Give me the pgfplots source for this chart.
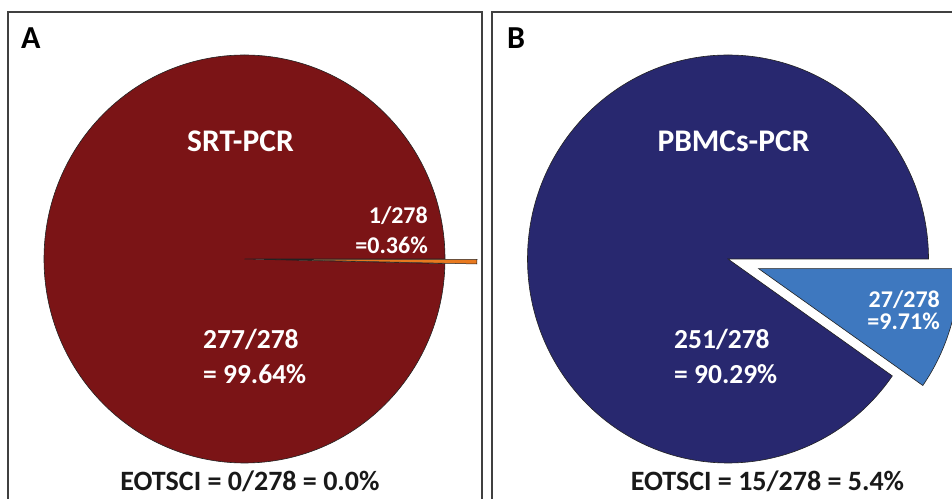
\documentclass[border=0pt]{standalone}
\usepackage{pgfplots}
\pgfplotsset{compat=1.18}
\usepackage{fontspec}
\setmainfont{Carlito}
\definecolor{redA}{HTML}{7B1416}
\definecolor{navyB}{HTML}{28286F}
\definecolor{blueB}{HTML}{3E78BF}
\definecolor{orangeA}{HTML}{E8791F}
\definecolor{edge}{HTML}{222222}
% data: counts out of 278
\def\Ntot{278}
\def\posA{1}   % SRT-PCR positive
\def\negA{277}
\def\posB{27}  % PBMCs-PCR positive
\def\negB{251}
\begin{document}
\begin{tikzpicture}
\pgfmathsetmacro\angA{360/\Ntot*\posA}
\pgfmathsetmacro\angB{360/\Ntot*\posB}
\pgfmathsetmacro\endA{360/\Ntot*\negA}
\pgfmathsetmacro\endB{360/\Ntot*\negB}
\begin{axis}[width=952bp,height=499bp,scale only axis,
  xmin=0,xmax=952,ymin=0,ymax=499,axis lines=none,clip=true]
% panel boxes
\draw[line width=1.5bp,black!75] (axis cs:8,0) -- (axis cs:8,487) -- (axis cs:482,487) -- (axis cs:482,0);
\draw[line width=1.5bp,black!75] (axis cs:492,0) -- (axis cs:492,487) -- (axis cs:952,487);
% Pie A
\fill[redA,draw=edge,line width=0.6bp] (axis cs:244.5,240) -- ++(0:200.5bp and 204bp)
  arc[start angle=0,end angle=\endA,x radius=200.5bp,y radius=204bp] -- cycle;
\fill[orangeA,draw=edge,line width=0.5bp] (axis cs:276.5,239.6) -- ++(-\angA:200.5bp and 204bp)
  arc[start angle=-\angA,end angle=0,x radius=200.5bp,y radius=204bp] -- cycle;
% Pie B
\fill[navyB,draw=edge,line width=0.6bp] (axis cs:728,240) -- ++(0:200.5bp and 204bp)
  arc[start angle=0,end angle=\endB,x radius=200.5bp,y radius=204bp] -- cycle;
\fill[blueB,draw=edge,line width=0.6bp] (axis cs:758.5,230.4) -- ++(-\angB:200.5bp and 204bp)
  arc[start angle=-\angB,end angle=0,x radius=200.5bp,y radius=204bp] -- cycle;
% texts
\node[anchor=base west,inner sep=0,font=\fontsize{32bp}{36bp}\selectfont\bfseries] at (axis cs:21,450) {A};
\node[anchor=base west,inner sep=0,font=\fontsize{32bp}{36bp}\selectfont\bfseries] at (axis cs:507,450) {B};
\node[anchor=base,inner sep=0,white,font=\fontsize{31.5bp}{36bp}\selectfont\bfseries] at (axis cs:240.5,347.3) {SRT-PCR};
\node[anchor=base,inner sep=0,white,font=\fontsize{31.5bp}{36bp}\selectfont\bfseries] at (axis cs:733.5,347.3) {PBMCs-PCR};
\node[anchor=base west,inner sep=0,white,font=\fontsize{27.5bp}{33bp}\selectfont\bfseries] at (axis cs:203,150) {277/278};
\node[anchor=base west,inner sep=0,white,font=\fontsize{27.5bp}{33bp}\selectfont\bfseries] at (axis cs:203,115.7) {= 99.64\%};
\node[anchor=base west,inner sep=0,white,font=\fontsize{27.5bp}{33bp}\selectfont\bfseries] at (axis cs:674,150) {251/278};
\node[anchor=base west,inner sep=0,white,font=\fontsize{27.5bp}{33bp}\selectfont\bfseries] at (axis cs:674,115.7) {= 90.29\%};
\node[anchor=base east,inner sep=0,white,font=\fontsize{24bp}{28bp}\selectfont\bfseries] at (axis cs:428,275.7) {1/278};
\node[anchor=base east,inner sep=0,white,font=\fontsize{24bp}{28bp}\selectfont\bfseries] at (axis cs:428,245.7) {=0.36\%};
\node[anchor=base east,inner sep=0,white,font=\fontsize{24bp}{28bp}\selectfont\bfseries] at (axis cs:940,191) {27/278};
\node[anchor=base east,inner sep=0,white,font=\fontsize{24bp}{28bp}\selectfont\bfseries] at (axis cs:940,169) {=9.71\%};
\node[anchor=base,inner sep=0,black!90,font=\fontsize{28bp}{32bp}\selectfont\bfseries] at (axis cs:250,8.3) {EOTSCI = 0/278 = 0.0\%};
\node[anchor=base,inner sep=0,black!90,font=\fontsize{28bp}{32bp}\selectfont\bfseries] at (axis cs:767.5,8.3) {EOTSCI = 15/278 = 5.4\%};
\end{axis}
\pgfresetboundingbox
\useasboundingbox (current axis.south west) rectangle (current axis.north east);
\end{tikzpicture}
\end{document}
